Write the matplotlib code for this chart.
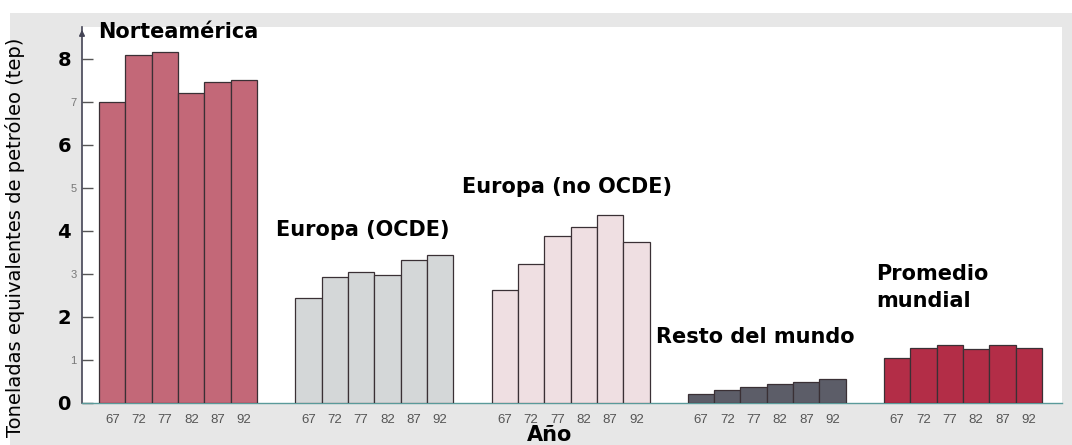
import matplotlib.pyplot as plt
from matplotlib.patches import Rectangle
import numpy as np

plt.rcParams['font.family'] = ['Liberation Sans', 'DejaVu Sans']

# Data
years = ['67', '72', '77', '82', '87', '92']
regions = ['Norteamérica', 'Europa (OCDE)', 'Europa (no OCDE)', 'Resto del mundo', 'Promedio\nmundial']
norteamerica = [7.0, 8.08, 8.15, 7.2, 7.47, 7.51]
europa_ocde = [2.43, 2.94, 3.05, 2.98, 3.33, 3.43]
europa_no_ocde = [2.63, 3.23, 3.88, 4.09, 4.37, 3.75]
resto_mundo = [0.21, 0.30, 0.38, 0.44, 0.49, 0.55]
promedio_mundial = [1.05, 1.27, 1.35, 1.25, 1.35, 1.29]
series = [norteamerica, europa_ocde, europa_no_ocde, resto_mundo, promedio_mundial]

colors = ['#c36878', '#d4d7d8', '#efdfe2', '#5c5d68', '#b32d47']
# label anchor (left x, baseline y) in data units
label_pos = [(-0.54, 8.49), (6.22, 3.88), (13.28, 4.88), (20.64, 1.40), (29.0, 2.86)]

fig = plt.figure(figsize=(10.72, 4.45), dpi=100, facecolor='white')
fig.patches.append(Rectangle((10 / 1072, 0), 1, (445 - 13) / 445, transform=fig.transFigure,
                             facecolor='#e7e7e7', edgecolor='none', zorder=-5))
ax = fig.add_axes([82 / 1072, 42 / 445, 980 / 1072, 376 / 445])
ax.set_facecolor('white')

stride = 7.45
xticks = []
xlabels = []
for g, vals in enumerate(series):
    x = g * stride + np.arange(len(years))
    ax.bar(x, vals, width=1.0, color=colors[g], edgecolor='#3a3035', linewidth=0.9, zorder=3)
    xticks += list(x)
    xlabels += years
    lx, ly = label_pos[g]
    for k, line in enumerate(regions[g].split('\n')):
        ax.text(lx, ly - k * 0.63, line, fontsize=15, fontweight='bold', ha='left', va='baseline',
                family='DejaVu Sans', zorder=5)

ax.set_xlim(-1.15, 36.06)
ax.set_ylim(0, 8.74)

ax.set_xticks(xticks)
ax.set_xticklabels(xlabels, fontsize=9.5, color='#555555')
ax.tick_params(axis='x', length=0, pad=8)

ax.set_yticks([0, 2, 4, 6, 8])
ax.set_yticklabels(['0', '2', '4', '6', '8'], fontsize=14, fontweight='bold', family='DejaVu Sans')
ax.set_yticks([1, 3, 5, 7], minor=True)
ax.set_yticklabels(['1', '3', '5', '7'], minor=True, fontsize=8, color='#777777')
ax.tick_params(axis='y', which='both', direction='in', length=8, width=1, color='#555555', pad=8)
ax.tick_params(axis='y', which='minor', pad=4)

for s in ['top', 'right']:
    ax.spines[s].set_visible(False)
ax.spines['left'].set_color('#444455')
ax.spines['left'].set_linewidth(1.2)
ax.spines['bottom'].set_color('#5a9a9a')
ax.spines['bottom'].set_linewidth(1.0)
ax.annotate('', xy=(0, 1.0), xytext=(0, 0.97), xycoords='axes fraction',
            arrowprops=dict(arrowstyle='-|>', color='#444455', lw=1.2, mutation_scale=8))

ax.set_ylabel('Toneladas equivalentes de petróleo (tep)', fontsize=14, family='DejaVu Sans')
ax.yaxis.set_label_coords(-0.058, 0.44)
fig.text(550 / 1072, 0, 'Año', fontsize=15, fontweight='bold', ha='center', va='bottom',
         family='DejaVu Sans')

fig.savefig('out.png', dpi=100)
